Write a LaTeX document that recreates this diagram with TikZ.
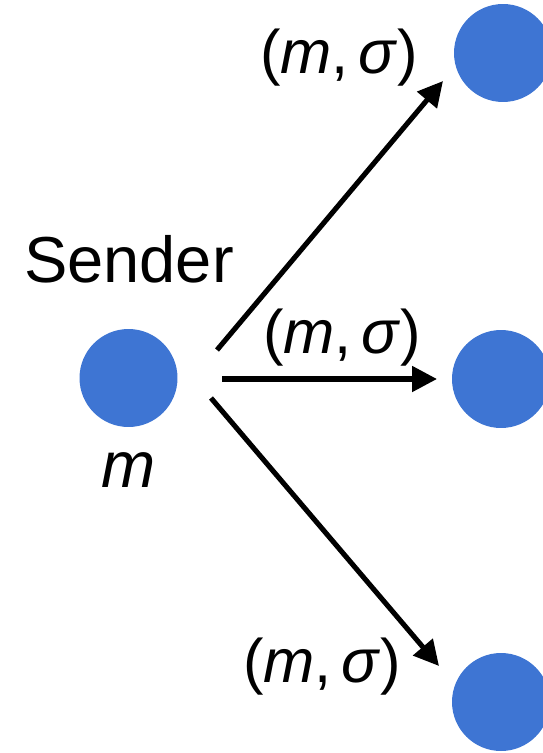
\documentclass[tikz,border=0pt]{standalone}
\usepackage{fontspec}
\setmainfont{Liberation Sans}
\usetikzlibrary{arrows.meta}
\definecolor{dotblue}{HTML}{3E75D3}

\begin{document}
\begin{tikzpicture}[
    x=0.02cm, y=-0.02cm,
    every node/.style={font=\fontsize{37}{44}\selectfont},
    dot/.style={circle, fill=dotblue, minimum size=1.96cm, inner sep=0pt},
    arr/.style={-{Triangle[length=0.5cm, width=0.5cm]}, line width=2.9pt},
    pair/.style={anchor=base, font=\fontsize{35}{42}\selectfont}
]
\useasboundingbox (0,0) rectangle (543,753);

\node[dot] (sender) at (128.5,378) {};
\node[dot] (top)    at (503,53)  {};
\node[dot] (mid)    at (501,379) {};
\node[dot] (bot)    at (501,702) {};

\node[anchor=base] (sname) at (129,282) {Sender};
\node[anchor=base] (msg)   at (129,487) {\textit{m}};

% start and end points of the arrows
\coordinate (s1) at (217,350);
\coordinate (e1) at (443,81);
\coordinate (s2) at (222,379);
\coordinate (e2) at (437,379);
\coordinate (s3) at (211,398);
\coordinate (e3) at (439,666);

\draw[arr] (s1) -- (e1);
\draw[arr] (s2) -- (e2);
\draw[arr] (s3) -- (e3);

\node[pair] (l1) at (339,74)  {(\textit{m},\hspace{0.15em}\textit{σ})};
\node[pair] (l2) at (342,353) {(\textit{m},\hspace{0.15em}\textit{σ})};
\node[pair] (l3) at (322,682) {(\textit{m},\hspace{0.15em}\textit{σ})};
\end{tikzpicture}
\end{document}
